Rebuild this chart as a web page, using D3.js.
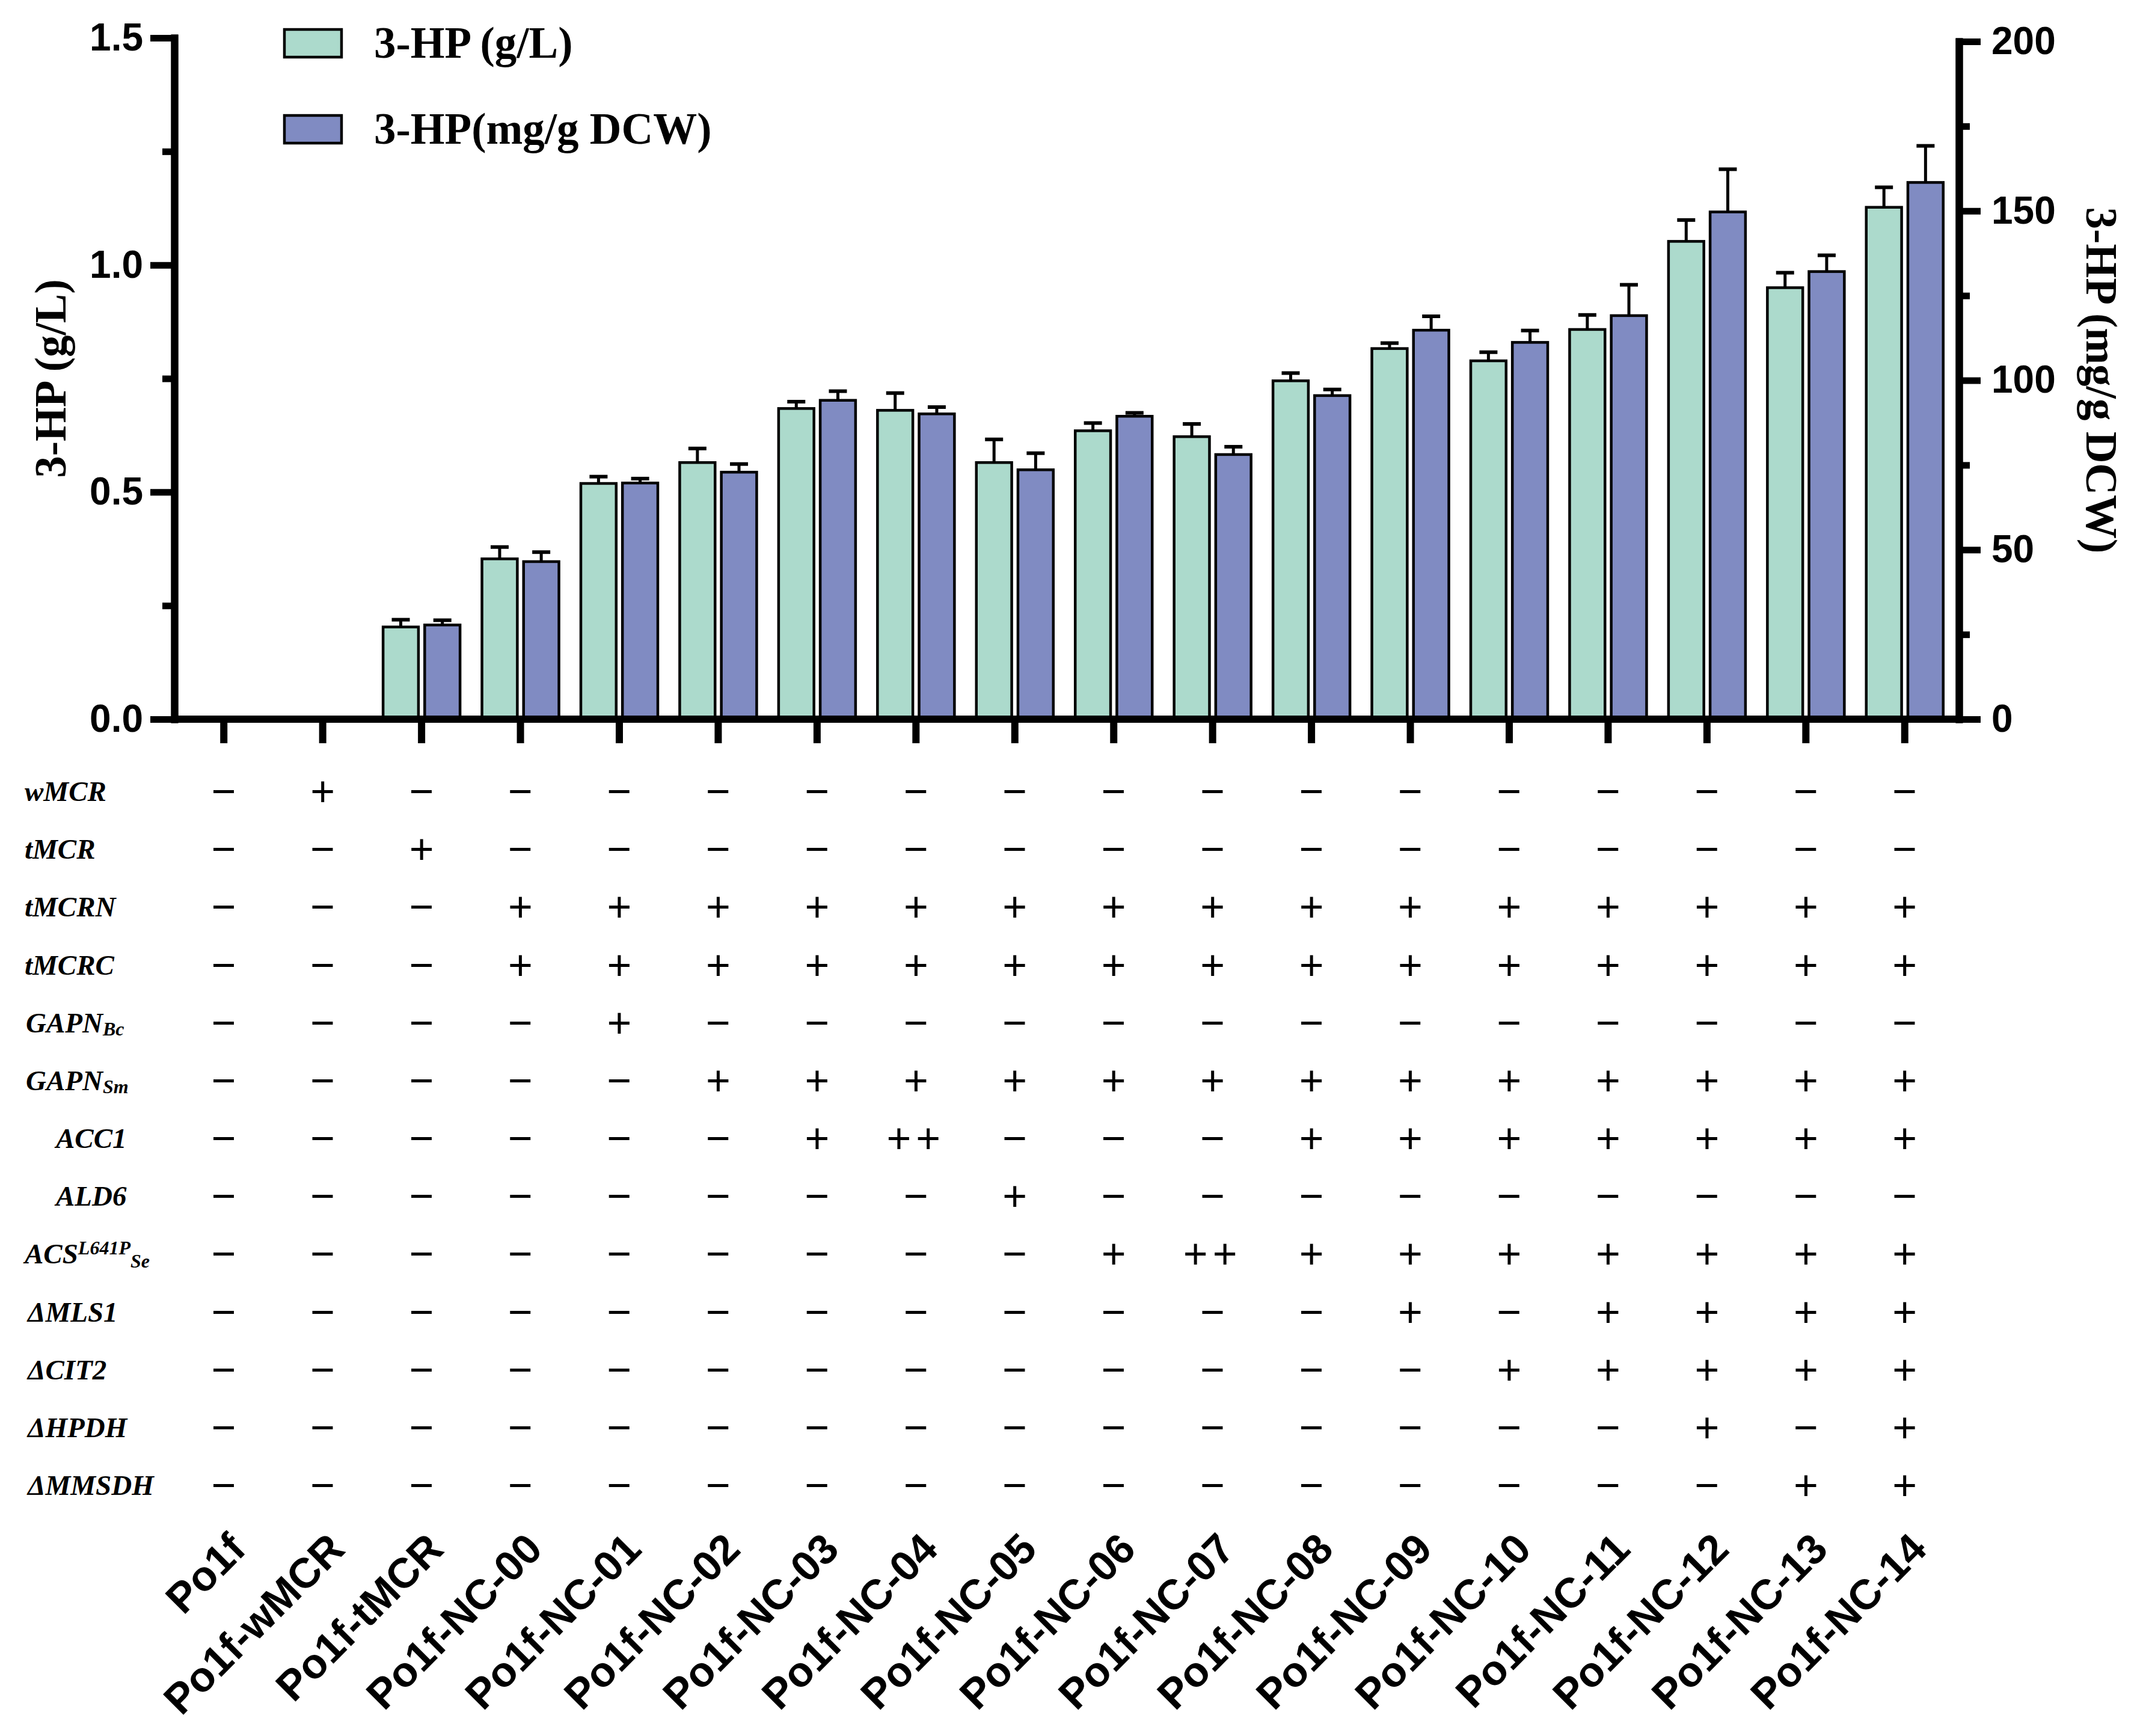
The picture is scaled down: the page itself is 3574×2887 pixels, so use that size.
<!DOCTYPE html>
<html>
<head>
<meta charset="utf-8">
<script src="https://cdn.jsdelivr.net/npm/d3@7"></script>
<style>
  body { margin: 0; background: #fff; }
  svg { display: block; }
</style>
</head>
<body>
<svg width="3574" height="2887"></svg>
<script>
// strains
var categories = ["Po1f", "Po1f-wMCR", "Po1f-tMCR", "Po1f-NC-00", "Po1f-NC-01", "Po1f-NC-02",
  "Po1f-NC-03", "Po1f-NC-04", "Po1f-NC-05", "Po1f-NC-06", "Po1f-NC-07", "Po1f-NC-08",
  "Po1f-NC-09", "Po1f-NC-10", "Po1f-NC-11", "Po1f-NC-12", "Po1f-NC-13", "Po1f-NC-14"];

// 3-HP titer (g/L) and SD
var titer = [0, 0, 0.203, 0.353, 0.519, 0.565, 0.684, 0.680, 0.565, 0.635, 0.622, 0.745,
  0.816, 0.789, 0.858, 1.052, 0.950, 1.127];
var titerErr = [0, 0, 0.016, 0.026, 0.015, 0.031, 0.015, 0.038, 0.051, 0.017, 0.028, 0.017,
  0.012, 0.019, 0.032, 0.047, 0.033, 0.044];

// 3-HP yield (mg/g DCW) and SD
var yieldDcw = [0, 0, 27.8, 46.5, 69.7, 72.9, 94.1, 90.1, 73.6, 89.4, 78.1, 95.5,
  114.8, 111.2, 119.1, 149.7, 132.1, 158.4];
var yieldErr = [0, 0, 1.4, 2.8, 1.3, 2.4, 2.7, 2.0, 4.9, 1.0, 2.3, 1.8,
  4.1, 3.5, 9.1, 12.6, 4.8, 10.8];

var leftTicks = [0, 0.5, 1.0, 1.5];
var leftMinor = [0.25, 0.75, 1.25];
var rightTicks = [0, 50, 100, 150, 200];
var rightMinor = [25, 75, 125, 175];

var seriesNames = ["3-HP (g/L)", "3-HP(mg/g DCW)"];

// genotype table
var rowWMCR  = ["-","+","-","-","-","-","-","-","-","-","-","-","-","-","-","-","-","-"];
var rowTMCR  = ["-","-","+","-","-","-","-","-","-","-","-","-","-","-","-","-","-","-"];
var rowTMCRN = ["-","-","-","+","+","+","+","+","+","+","+","+","+","+","+","+","+","+"];
var rowTMCRC = ["-","-","-","+","+","+","+","+","+","+","+","+","+","+","+","+","+","+"];
var rowGAPNBc = ["-","-","-","-","+","-","-","-","-","-","-","-","-","-","-","-","-","-"];
var rowGAPNSm = ["-","-","-","-","-","+","+","+","+","+","+","+","+","+","+","+","+","+"];
var rowACC1  = ["-","-","-","-","-","-","+","++","-","-","-","+","+","+","+","+","+","+"];
var rowALD6  = ["-","-","-","-","-","-","-","-","+","-","-","-","-","-","-","-","-","-"];
var rowACS   = ["-","-","-","-","-","-","-","-","-","+","++","+","+","+","+","+","+","+"];
var rowMLS1  = ["-","-","-","-","-","-","-","-","-","-","-","-","+","-","+","+","+","+"];
var rowCIT2  = ["-","-","-","-","-","-","-","-","-","-","-","-","-","+","+","+","+","+"];
var rowHPDH  = ["-","-","-","-","-","-","-","-","-","-","-","-","-","-","-","+","-","+"];
var rowMMSDH = ["-","-","-","-","-","-","-","-","-","-","-","-","-","-","-","-","+","+"];

// row labels: [main, sup, sub, indent]
var rowLabels = [
  ["wMCR", "", "", 0], ["tMCR", "", "", 0], ["tMCRN", "", "", 0], ["tMCRC", "", "", 0],
  ["GAPN", "", "Bc", 2], ["GAPN", "", "Sm", 2], ["ACC1", "", "", 52], ["ALD6", "", "", 52],
  ["ACS", "L641P", "Se", 0], ["\u0394MLS1", "", "", 5], ["\u0394CIT2", "", "", 5],
  ["\u0394HPDH", "", "", 5], ["\u0394MMSDH", "", "", 5]
];
var rows = [rowWMCR, rowTMCR, rowTMCRN, rowTMCRC, rowGAPNBc, rowGAPNSm, rowACC1, rowALD6,
  rowACS, rowMLS1, rowCIT2, rowHPDH, rowMMSDH];

var green = "#acdacc";
var blue = "#808bc2";
var serif = "'Liberation Serif', 'Times New Roman', serif";
var sans = "'Liberation Sans', Arial, sans-serif";

var svg = d3.select("svg");
svg.append("rect").attr("width", 3574).attr("height", 2887).attr("fill", "#fff");

var xScale = d3.scaleBand().domain(categories).range([290, 3250]).padding(0);
var inner = d3.scaleBand().domain([0, 1]).range([-64, 64]).paddingInner(0.15);
var yLeft = d3.scaleLinear().domain([0, 1.5]).range([1196, 63]);
var yRight = d3.scaleLinear().domain([0, 200]).range([1196, 69]);
var rightX = 3258;
var cx = (d) => xScale(d) + xScale.bandwidth() / 2;

// bars
var groups = svg.selectAll(".grp")
  .data(categories)
  .enter()
  .append("g")
  .attr("class", "grp")
  .attr("transform", (d) => "translate(" + cx(d) + ",0)");

function drawSeries(vals, errs, scale, idx, color) {
  var sel = groups.filter((d, i) => vals[i] > 0);
  var mid = inner(idx) + inner.bandwidth() / 2;
  var top = (d) => { var i = categories.indexOf(d); return scale(vals[i] + errs[i]); };
  sel.append("line")
    .attr("x1", mid).attr("x2", mid)
    .attr("y1", (d) => scale(vals[categories.indexOf(d)]))
    .attr("y2", top)
    .attr("stroke", "#000")
    .attr("stroke-width", 5);
  sel.append("line")
    .attr("x1", mid - 15).attr("x2", mid + 15)
    .attr("y1", top).attr("y2", top)
    .attr("stroke", "#000")
    .attr("stroke-width", 6);
  sel.append("rect")
    .attr("x", inner(idx))
    .attr("width", inner.bandwidth())
    .attr("y", (d) => scale(vals[categories.indexOf(d)]))
    .attr("height", (d) => scale(0) - scale(vals[categories.indexOf(d)]))
    .attr("fill", color)
    .attr("stroke", "#000")
    .attr("stroke-width", 4.5);
}
drawSeries(titer, titerErr, yLeft, 0, green);
drawSeries(yieldDcw, yieldErr, yRight, 1, blue);

// axes
function styleAxis(g, w) {
  g.select(".domain").attr("stroke-width", 12).attr("stroke-linecap", "square");
  g.selectAll(".tick line").attr("stroke-width", w);
  g.selectAll("text").attr("font-family", sans).attr("font-weight", "bold")
    .attr("font-size", "64px").attr("fill", "#000");
}

var gl = svg.append("g").attr("transform", "translate(290,0)")
  .call(d3.axisLeft(yLeft).tickValues(leftMinor).tickSize(20).tickSizeOuter(0).tickFormat(""));
styleAxis(gl, 11);
gl = svg.append("g").attr("transform", "translate(290,0)")
  .call(d3.axisLeft(yLeft).tickValues(leftTicks).tickSize(40).tickSizeOuter(0).tickPadding(12)
    .tickFormat(d3.format(".1f")));
styleAxis(gl, 11);

var gr = svg.append("g").attr("transform", "translate(" + rightX + ",0)")
  .call(d3.axisRight(yRight).tickValues(rightMinor).tickSize(18).tickSizeOuter(0).tickFormat(""));
styleAxis(gr, 11);
gr = svg.append("g").attr("transform", "translate(" + rightX + ",0)")
  .call(d3.axisRight(yRight).tickValues(rightTicks).tickSize(36).tickSizeOuter(0).tickPadding(18));
styleAxis(gr, 11);

var gx = svg.append("g").attr("transform", "translate(0," + yLeft(0) + ")")
  .call(d3.axisBottom(xScale).tickSize(40).tickSizeOuter(0).tickFormat(""));
gx.select(".domain").remove();
gx.selectAll(".tick line").attr("stroke-width", 12);
svg.append("line")
  .attr("x1", 290).attr("x2", rightX)
  .attr("y1", yLeft(0)).attr("y2", yLeft(0))
  .attr("stroke", "#000").attr("stroke-width", 12);

// axis titles
svg.append("text")
  .attr("transform", "translate(84," + (yLeft(0) + yLeft(1.5)) / 2 + ") rotate(-90)")
  .attr("text-anchor", "middle")
  .attr("dominant-baseline", "central")
  .attr("font-family", serif).attr("font-weight", "bold").attr("font-size", "73px")
  .text("3-HP (g/L)");
svg.append("text")
  .attr("transform", "translate(3494," + (yRight(0) + yRight(200)) / 2 + ") rotate(90)")
  .attr("text-anchor", "middle")
  .attr("dominant-baseline", "central")
  .attr("font-family", serif).attr("font-weight", "bold").attr("font-size", "73px")
  .text("3-HP (mg/g DCW)");

// legend
var leg = svg.selectAll(".leg")
  .data(seriesNames)
  .enter()
  .append("g")
  .attr("class", "leg")
  .attr("transform", (d, i) => "translate(473," + (49 + i * 143) + ")");
leg.append("rect")
  .attr("width", 95).attr("height", 46)
  .attr("fill", (d, i) => (i === 0 ? green : blue))
  .attr("stroke", "#000").attr("stroke-width", 4.5);
leg.append("text")
  .attr("x", 149).attr("y", 47)
  .attr("font-family", serif).attr("font-weight", "bold").attr("font-size", "73px")
  .text((d) => d);

// genotype table
var rowY = d3.scaleLinear().domain([0, rows.length - 1]).range([1316, 2470]);

var labels = svg.selectAll(".rowlab")
  .data(rowLabels)
  .enter()
  .append("text")
  .attr("class", "rowlab")
  .attr("x", (d) => 41 + d[3])
  .attr("y", (d, i) => rowY(i) + 16)
  .attr("font-family", serif).attr("font-weight", "bold").attr("font-style", "italic")
  .attr("font-size", "47px");
labels.append("tspan").text((d) => d[0]);
labels.filter((d) => d[1]).append("tspan")
  .attr("font-size", "32px").attr("dy", -15).text((d) => d[1]);
labels.filter((d) => d[2]).append("tspan")
  .attr("font-size", "32px").attr("dy", (d) => (d[1] ? 22 : 5)).text((d) => d[2]);

rows.forEach(function (row, r) {
  svg.selectAll(".sym" + r)
    .data(row)
    .enter()
    .append("text")
    .attr("class", "sym" + r)
    .attr("x", (d, i) => cx(categories[i]))
    .attr("y", rowY(r) + 24)
    .attr("text-anchor", "middle")
    .attr("font-family", sans)
    .attr("font-size", "70px")
    .attr("letter-spacing", (d) => (d === "++" ? "8px" : null))
    .text((d) => (d === "-" ? "\u2212" : d));
});

// strain labels
svg.selectAll(".catlab")
  .data(categories)
  .enter()
  .append("text")
  .attr("class", "catlab")
  .attr("transform", (d) => "translate(" + (cx(d) + 40) + ",2580) rotate(-45)")
  .attr("text-anchor", "end")
  .attr("font-family", sans).attr("font-weight", "bold").attr("font-size", "70px")
  .text((d) => d);
</script>
</body>
</html>
